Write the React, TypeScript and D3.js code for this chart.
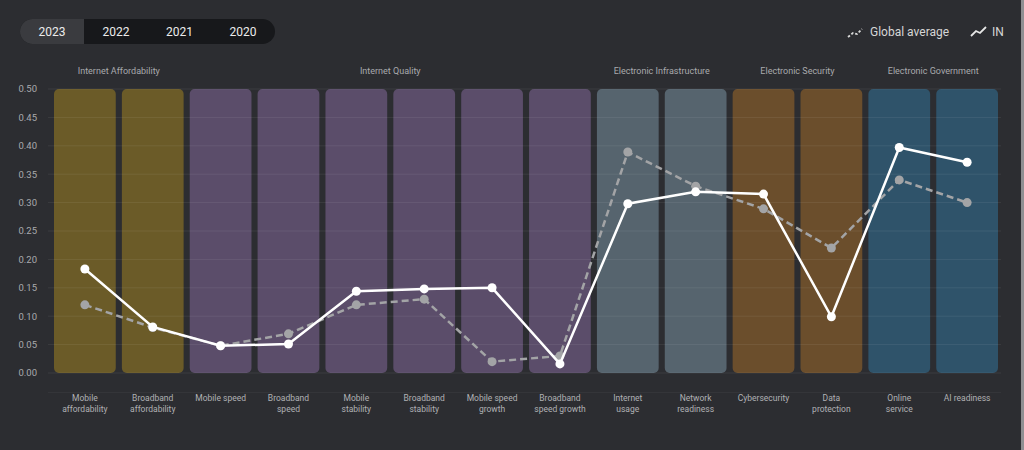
import React from "react";
import * as d3 from "d3";

const categories = [
  "Mobile affordability", "Broadband affordability", "Mobile speed", "Broadband speed",
  "Mobile stability", "Broadband stability", "Mobile speed growth", "Broadband speed growth",
  "Internet usage", "Network readiness", "Cybersecurity", "Data protection",
  "Online service", "AI readiness",
];
const categoryLines = [
  ["Mobile", "affordability"], ["Broadband", "affordability"], ["Mobile speed"], ["Broadband", "speed"],
  ["Mobile", "stability"], ["Broadband", "stability"], ["Mobile speed", "growth"], ["Broadband", "speed growth"],
  ["Internet", "usage"], ["Network", "readiness"], ["Cybersecurity"], ["Data", "protection"],
  ["Online", "service"], ["AI readiness"],
];
const categoryGroup = [0, 0, 1, 1, 1, 1, 1, 1, 2, 2, 3, 3, 4, 4];
const groups = [
  "Internet Affordability", "Internet Quality", "Electronic Infrastructure",
  "Electronic Security", "Electronic Government",
];
const groupColors = ["#6b5b28", "#5b4d6a", "#56646e", "#6b4e2c", "#2f536a"];
const inValues = [0.183, 0.081, 0.048, 0.051, 0.144, 0.148, 0.150, 0.016, 0.298, 0.319, 0.315, 0.099, 0.397, 0.371];
const globalValues = [0.12, 0.08, 0.048, 0.069, 0.12, 0.13, 0.02, 0.03, 0.389, 0.329, 0.289, 0.22, 0.34, 0.30];
const years = ["2023", "2022", "2021", "2020"];
const yTicks = [0, 0.05, 0.1, 0.15, 0.2, 0.25, 0.3, 0.35, 0.4, 0.45, 0.5];

const W = 1024, H = 450;
const font = "Roboto, 'Noto Sans', sans-serif";

export default function App() {
  const x = d3.scaleBand<string>().domain(categories).range([54, 998]).paddingInner(0.09).paddingOuter(0);
  const y = d3.scaleLinear().domain([0, 0.5]).range([373, 89]);
  const cx = (i: number) => (x(categories[i]) as number) + x.bandwidth() / 2;
  const line = d3.line<number>().x((_, i) => cx(i)).y((d) => y(d));
  const fmt = d3.format(".2f");

  const groupCenters = groups.map((_, g) => {
    const idx = categoryGroup.map((gg, i) => (gg === g ? i : -1)).filter((i) => i >= 0);
    return (cx(idx[0]) + cx(idx[idx.length - 1])) / 2;
  });

  const yearX = [20, 84, 148, 211, 275];

  return (
    <svg width={W} height={H} style={{ position: "absolute", left: 0, top: 0, display: "block" }} fontFamily={font}>
      <rect x={0} y={0} width={W} height={H} fill="#2c2d31" />
      <rect x={1021} y={0} width={3} height={H} fill="#8e8f92" />

      {/* Year selector */}
      <rect x={20} y={19} width={255} height={25} rx={12.5} fill="#17181b" />
      <path d={`M84,19 H32.5 A12.5,12.5 0 0 0 32.5,44 H84 Z`} fill="#3a3b3f" />
      {years.map((yr, i) => (
        <text key={yr} x={(yearX[i] + yearX[i + 1]) / 2} y={31.5} dy="0.35em" textAnchor="middle"
          fontSize={12} fill="#ececec">{yr}</text>
      ))}

      {/* Legend */}
      <path d="M848,37 L853,33 L857,34 L862,29" fill="none" stroke="#d8d8d8" strokeWidth={1.8} strokeDasharray="2.5,1.8" />
      <text x={870} y={32} dy="0.35em" fontSize={12} fill="#d6d6d6">Global average</text>
      <path d="M971,36 L976,31 L980,33 L986,27" fill="none" stroke="#e6e6e6" strokeWidth={1.8} />
      <text x={992} y={32} dy="0.35em" fontSize={12} fill="#d6d6d6">IN</text>

      {/* Group titles */}
      {groups.map((g, i) => (
        <text key={g} x={groupCenters[i]} y={71} dy="0.35em" textAnchor="middle" fontSize={9} fill="#a9aaad">{g}</text>
      ))}

      {/* Y axis labels */}
      {yTicks.map((t) => (
        <text key={t} x={37} y={y(t)} dy="0.35em" textAnchor="end" fontSize={9.5} fill="#a9aaad">{fmt(t)}</text>
      ))}

      {/* Bars */}
      {categories.map((c, i) => (
        <rect key={c} x={x(c)} y={y(0.5)} width={x.bandwidth()} height={y(0) - y(0.5)} rx={5}
          fill={groupColors[categoryGroup[i]]} />
      ))}

      {/* Grid */}
      {yTicks.map((t) => (
        <line key={t} x1={48} x2={1001} y1={y(t)} y2={y(t)} stroke="#ffffff" strokeOpacity={0.07} strokeWidth={1} />
      ))}
      <line x1={48} x2={1001} y1={392.5} y2={392.5} stroke="#ffffff" strokeOpacity={0.04} />

      {/* Global average */}
      <path d={line(globalValues) || ""} fill="none" stroke="#a3a4a6" strokeWidth={2.5} strokeDasharray="7,4" />
      {globalValues.map((v, i) => (
        <circle key={i} cx={cx(i)} cy={y(v)} r={4.5} fill="#a3a4a6" />
      ))}

      {/* IN */}
      <path d={line(inValues) || ""} fill="none" stroke="#ffffff" strokeWidth={2.5} />
      {inValues.map((v, i) => (
        <circle key={i} cx={cx(i)} cy={y(v)} r={4.5} fill="#ffffff" />
      ))}

      {/* Category labels */}
      {categoryLines.map((ls, i) => (
        <text key={i} x={cx(i)} y={398} textAnchor="middle" fontSize={8.5} fill="#b0b1b4">
          {ls.map((l, j) => (
            <tspan key={j} x={cx(i)} dy={j === 0 ? "0.35em" : 11}>{l}</tspan>
          ))}
        </text>
      ))}
    </svg>
  );
}
